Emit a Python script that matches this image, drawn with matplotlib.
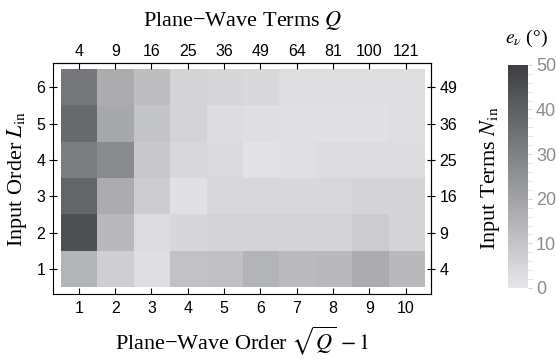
import numpy as np
import matplotlib
matplotlib.use("Agg")
import matplotlib.pyplot as plt
from matplotlib.colors import LinearSegmentedColormap

plt.rcParams['font.family'] = ['Liberation Sans', 'DejaVu Sans']
plt.rcParams['mathtext.fontset'] = 'stix'

# plane-wave order (columns) and input order (rows)
pw_order = [1, 2, 3, 4, 5, 6, 7, 8, 9, 10]
in_order = [1, 2, 3, 4, 5, 6]
pw_terms = [4, 9, 16, 25, 36, 49, 64, 81, 100, 121]
in_terms = [4, 9, 16, 25, 36, 49]

# error e_v in degrees, one row per input order (L_in = 1 .. 6)
err_L1 = [14.7, 6.8, 2.4, 10.9, 11.2, 14.7, 12.6, 13.2, 17.1, 13.2]
err_L2 = [44.7, 13.2, 2.9, 4.4, 5.3, 5.3, 5.3, 5.3, 7.6, 5.3]
err_L3 = [38.2, 17.1, 7.4, 1.8, 4.1, 4.1, 4.1, 4.1, 5.0, 5.0]
err_L4 = [30.9, 27.1, 8.8, 4.1, 3.5, 1.2, 2.1, 2.9, 2.9, 2.9]
err_L5 = [36.8, 18.5, 10.0, 5.3, 2.9, 2.4, 1.8, 1.8, 1.8, 2.4]
err_L6 = [32.9, 17.1, 11.8, 5.3, 4.7, 4.1, 2.4, 2.4, 2.4, 2.4]
err = np.array([err_L1, err_L2, err_L3, err_L4, err_L5, err_L6])

cmap = LinearSegmentedColormap.from_list('grays', ['#e6e6e8', '#3c3e42'])

fig = plt.figure(figsize=(5.56, 3.6), dpi=100)
ax = fig.add_axes([0.0962, 0.1833, 0.679, 0.6417])

im = ax.imshow(err, origin='lower', cmap=cmap, vmin=0, vmax=50, aspect='auto',
               extent=(0.5, 10.5, 0.5, 6.5), interpolation='nearest')
ax.set_xlim(0.3, 10.7)
ax.set_ylim(0.31, 6.67)

ax.set_xticks(pw_order)
ax.set_yticks(in_order)
ax.tick_params(axis='x', direction='in', length=4, labelsize=11.5, pad=5)
ax.tick_params(axis='y', direction='inout', length=6, labelsize=11.5, pad=3)

serif = 'Liberation Serif'
ax.set_xlabel('Plane\u2212Wave Order $\\sqrt{Q}\\,-1$', family=serif, fontsize=16, labelpad=6)
ax.set_ylabel('Input Order $L_{\\rm in}$', family=serif, fontsize=16, labelpad=5)

top = ax.secondary_xaxis('top')
top.set_xticks(pw_order, labels=[str(q) for q in pw_terms])
top.tick_params(direction='in', length=4, labelsize=11.5, pad=3)
top.set_xlabel('Plane\u2212Wave Terms $Q$', family=serif, fontsize=16, labelpad=13)

right = ax.secondary_yaxis('right')
right.set_yticks(in_order, labels=[str(n) for n in in_terms])
right.tick_params(direction='inout', length=6, labelsize=11.5, pad=3)
right.set_ylabel('Input Terms $N_{\\rm in}$', family=serif, fontsize=16, labelpad=15)

# colour bar
cax = fig.add_axes([0.913, 0.2, 0.036, 0.62])
cb = fig.colorbar(im, cax=cax, ticks=[0, 10, 20, 30, 40, 50])
cb.outline.set_visible(False)
cb.minorticks_on()
cax.tick_params(which='both', colors='#d8d8d8', labelcolor='#8c8c8c', labelsize=13, length=3, pad=3)
cax.text(-0.15, 1.07, '$e_\\nu$ (°)', transform=cax.transAxes, family=serif,
         fontsize=14, ha='left', va='bottom')

fig.savefig('out.png', dpi=100)
